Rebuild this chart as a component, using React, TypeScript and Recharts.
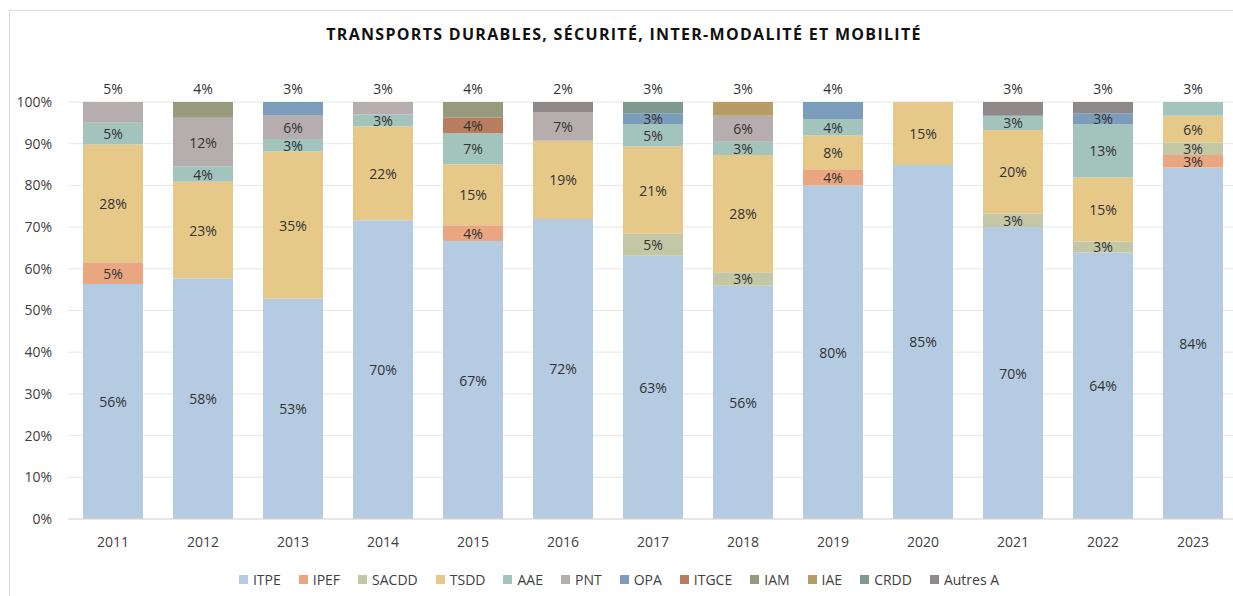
import { BarChart, Bar, XAxis, YAxis, CartesianGrid, Legend, LabelList } from "recharts";

const years = ["2011", "2012", "2013", "2014", "2015", "2016", "2017", "2018", "2019", "2020", "2021", "2022", "2023"];

const ITPE = [56.3, 57.6, 52.8, 70.4, 66.6, 71.9, 63.1, 55.9, 79.9, 84.9, 70.0, 64.0, 84.2];
const IPEF = [5.2, 0, 0, 0, 3.8, 0, 0, 0, 3.9, 0, 0, 0, 3.0];
const SACDD = [0, 0, 0, 0, 0, 0, 5.3, 3.2, 0, 0, 3.2, 2.6, 3.0];
const TSDD = [28.2, 23.2, 35.3, 22.1, 14.6, 18.7, 20.9, 28.1, 8.1, 15.1, 20.1, 15.4, 6.4];
const AAE = [5.2, 3.7, 3.0, 2.8, 7.4, 0, 5.4, 3.2, 3.9, 0, 3.4, 12.8, 3.3];
const PNT = [5.0, 11.6, 5.8, 2.95, 0, 6.9, 0, 6.2, 0, 0, 0, 0, 0];
const OPA = [0, 0, 3.1, 0, 0, 0, 2.6, 0, 4.1, 0, 0, 2.6, 0];
const ITGCE = [0, 0, 0, 0, 3.7, 0, 0, 0, 0, 0, 0, 0, 0];
const IAM = [0, 3.8, 0, 0, 3.8, 0, 0, 0, 0, 0, 0, 0, 0];
const IAE = [0, 0, 0, 0, 0, 0, 0, 3.3, 0, 0, 0, 0, 0];
const CRDD = [0, 0, 0, 0, 0, 0, 2.7, 0, 0, 0, 0, 0, 0];
const AUTRES = [0, 0, 0, 0, 0, 2.4, 0, 0, 0, 0, 3.3, 2.7, 0];

const seriesKeys = ["ITPE", "IPEF", "SACDD", "TSDD", "AAE", "PNT", "OPA", "ITGCE", "IAM", "IAE", "CRDD", "Autres A"];
const seriesValues: Record<string, number[]> = {
  ITPE,
  IPEF,
  SACDD,
  TSDD,
  AAE,
  PNT,
  OPA,
  ITGCE,
  IAM,
  IAE,
  CRDD,
  "Autres A": AUTRES,
};

const COLORS: Record<string, string> = {
  ITPE: "#b4cbe1",
  IPEF: "#eaa680",
  SACDD: "#c3c7a6",
  TSDD: "#e6c988",
  AAE: "#a2c4bc",
  PNT: "#b6aeae",
  OPA: "#7b9dbb",
  ITGCE: "#b87e5f",
  IAM: "#979a7c",
  IAE: "#b69d66",
  CRDD: "#7e9a8e",
  "Autres A": "#8f898a",
};

const yTicks = [0, 0.1, 0.2, 0.3, 0.4, 0.5, 0.6, 0.7, 0.8, 0.9, 1];

const data = years.map((year, i) => {
  const row: Record<string, string | number> = { year };
  seriesKeys.forEach((k) => {
    row[k] = seriesValues[k][i];
  });
  return row;
});

const FONT = "'Open Sans', sans-serif";
const PLOT_TOP = 102;

// small segment sitting on top of a bar gets its label above the bar
const renderLabel = (props: any) => {
  const { x, y, width, height, value } = props;
  const v = Number(value);
  if (!v) return null;
  const top = Math.min(y, y + height);
  const h = Math.abs(height);
  const above = top < PLOT_TOP + 1 && v < 8;
  const cy = above ? top - 14 : top + h / 2;
  return (
    <text
      x={x + width / 2}
      y={cy}
      textAnchor="middle"
      dominantBaseline="central"
      fill="#333"
      fontSize={14}
      fontFamily={FONT}
    >
      {Math.round(v)}%
    </text>
  );
};

const renderLegend = () => (
  <div
    style={{
      display: "flex",
      justifyContent: "center",
      gap: 18,
      height: 47,
      paddingTop: 22,
      boxSizing: "border-box",
      fontFamily: FONT,
      fontSize: 14,
      color: "#404040",
    }}
  >
    {seriesKeys.map((k) => (
      <div key={k} style={{ display: "flex", alignItems: "center", gap: 5, height: 16 }}>
        <span style={{ width: 9, height: 9, background: COLORS[k], display: "inline-block" }} />
        <span>{k}</span>
      </div>
    ))}
  </div>
);

export default function App() {
  return (
    <div style={{ position: "relative", width: 1233, height: 596, overflow: "hidden", background: "#fff" }}>
      <style>{"body{margin:0}"}</style>
      <div
        style={{
          position: "absolute",
          left: 9,
          top: 10,
          width: 1300,
          height: 700,
          border: "1px solid #d9d9d9",
        }}
      />
      <div
        style={{
          position: "absolute",
          top: 23,
          left: 0,
          width: 1248,
          textAlign: "center",
          fontFamily: FONT,
          fontWeight: 700,
          fontSize: 16,
          letterSpacing: 1.3,
          color: "#111",
        }}
      >
        TRANSPORTS DURABLES, SÉCURITÉ, INTER-MODALITÉ ET MOBILITÉ
      </div>
      <div style={{ position: "absolute", left: 0, top: 0 }}>
        <BarChart
          width={1245}
          height={596}
          data={data}
          stackOffset="expand"
          margin={{ top: 102, right: 7, bottom: 0, left: 0 }}
        >
          <CartesianGrid vertical={false} stroke="#e6e6e6" />
          <XAxis
            dataKey="year"
            height={30}
            tickLine={false}
            tickMargin={12}
            axisLine={{ stroke: "#d9d9d9" }}
            tick={{ fill: "#404040", fontSize: 14, fontFamily: FONT }}
          />
          <YAxis
            width={68}
            domain={[0, 1]}
            ticks={yTicks}
            axisLine={false}
            tickLine={false}
            tickMargin={10}
            tickFormatter={(v: number) => `${Math.round(v * 100)}%`}
            tick={{ fill: "#404040", fontSize: 14, fontFamily: FONT }}
          />
          <Legend verticalAlign="bottom" content={renderLegend} />
          {seriesKeys.map((k) => (
            <Bar key={k} dataKey={k} stackId="a" fill={COLORS[k]} barSize={60} isAnimationActive={false}>
              <LabelList dataKey={k} content={renderLabel} />
            </Bar>
          ))}
        </BarChart>
      </div>
    </div>
  );
}
